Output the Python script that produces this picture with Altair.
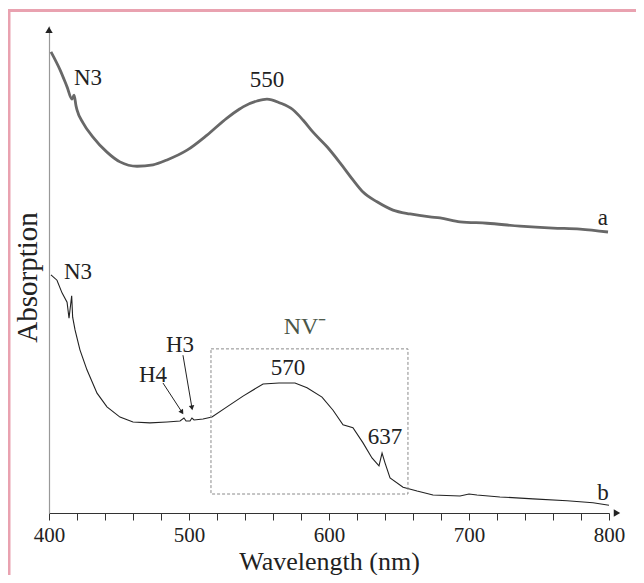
import altair as alt
import pandas as pd

# ---- curve a (thick grey) ----
wl_a = [401.4, 407.9, 412.9, 416.4, 417.9, 419.3, 420.0, 424.3, 431.4, 441.4,
        450.7, 462.9, 474.3, 484.3, 498.6, 512.9, 527.1, 536.4, 538.6, 548.6,
        555.7, 565.0, 574.3, 581.4, 588.6, 598.6, 607.9, 617.1, 624.3, 634.3,
        645.7, 657.9, 672.1, 679.3, 693.6, 712.9, 736.4, 760.0, 779.3, 799.3]
abs_a = [94.7, 91.0, 87.5, 85.0, 85.8, 83.6, 82.8, 80.1, 77.2, 74.1,
         72.1, 71.2, 71.5, 72.5, 74.5, 77.6, 81.1, 83.0, 83.4, 84.6,
         85.0, 84.2, 82.8, 80.7, 78.2, 75.2, 71.9, 68.4, 65.9, 63.9,
         62.2, 61.4, 60.8, 60.6, 59.8, 59.5, 58.9, 58.5, 58.3, 57.7]

# ---- curve b (thin black) ----
wl_b = [401.4, 405.7, 409.3, 412.9, 414.3, 416.2, 416.9, 418.6, 422.1, 427.1,
        434.3, 441.4, 450.7, 460.0, 472.1, 484.3, 493.6, 496.4, 497.9, 500.7,
        502.1, 503.6, 510.0, 516.4, 527.1, 538.6, 552.9, 564.3, 575.7, 584.3,
        595.0, 602.9, 610.0, 617.1, 624.3, 630.7, 635.7, 637.9, 640.0, 643.6,
        652.9, 662.9, 674.3, 693.6, 700.0, 705.7, 722.1, 745.7, 770.0, 788.6, 800.0]
abs_b = [48.9, 47.8, 45.2, 43.3, 40.0, 44.6, 40.2, 37.6, 33.5, 29.4,
         24.6, 21.8, 19.7, 18.7, 18.5, 18.7, 18.9, 19.5, 18.9, 18.9,
         19.5, 19.1, 19.3, 19.7, 21.8, 24.0, 26.5, 26.7, 26.7, 25.7,
         23.8, 21.1, 18.1, 17.5, 14.4, 11.3, 9.7, 12.3, 10.3, 7.2,
         5.3, 4.5, 3.7, 3.5, 3.9, 3.7, 3.3, 2.9, 2.5, 2.1, 1.6]

# ---- annotations ----
label_text = ["N3", "550", "a", "N3", "H4", "H3", "570", "637", "b"]
label_x = [427.9, 555.7, 795.7, 420.7, 474.3, 493.6, 570.7, 640.0, 795.7]
label_y = [89.3, 88.9, 60.6, 49.5, 28.3, 34.5, 29.8, 15.6, 4.1]

nv_text = ["NV\u207b"]
nv_x = [582.9]
nv_y = [38.2]

box_x = [515.7, 656.4]
box_y = [3.9, 33.7]

arrow_x1 = [481.4, 495.7]
arrow_y1 = [26.7, 32.4]
arrow_x2 = [495.0, 502.1]
arrow_y2 = [20.7, 21.6]
arrow_angle = [327, 350]

FONT = "'Liberation Serif', 'Times New Roman', Times, serif"
xs = alt.Scale(domain=[400, 800], nice=False, zero=False)
ys = alt.Scale(domain=[0, 100], nice=False, zero=False)

df_a = pd.DataFrame({"wl": wl_a, "ab": abs_a})
df_b = pd.DataFrame({"wl": wl_b, "ab": abs_b})
df_lab = pd.DataFrame({"t": label_text, "x": label_x, "y": label_y})
df_nv = pd.DataFrame({"t": nv_text, "x": nv_x, "y": nv_y})
df_box = pd.DataFrame({"x": [box_x[0]], "x2": [box_x[1]], "y": [box_y[0]], "y2": [box_y[1]]})
df_arr = pd.DataFrame({"x": arrow_x1, "y": arrow_y1, "x2": arrow_x2, "y2": arrow_y2, "ang": arrow_angle})

x_axis = alt.Axis(
    values=list(range(400, 801, 20)),
    labelExpr="datum.value % 100 == 0 ? datum.label : ''",
    format="d", tickSize=7, tickColor="#333", tickWidth=1,
    domainColor="#333", domainWidth=1.2, grid=False,
    labelFont=FONT, labelFontSize=21, labelColor="#222",
    labelOverlap=False, labelFlush=False, labelPadding=4,
    title="Wavelength (nm)", titleFont=FONT, titleFontSize=26,
    titleFontWeight="normal", titleColor="#222", titlePadding=3,
)
y_axis = alt.Axis(
    ticks=False, labels=False, grid=False, domainColor="#999", domainWidth=1.2,
    title="Absorption", titleFont=FONT, titleFontSize=29,
    titleFontWeight="normal", titleColor="#222", titlePadding=7, titleY=251,
)


def X(f):
    return alt.X(f, type="quantitative", scale=xs, axis=x_axis)


def Y(f):
    return alt.Y(f, type="quantitative", scale=ys, axis=y_axis)


line_a = alt.Chart(df_a).mark_line(color="#686868", strokeWidth=2.8, clip=False,
                                   interpolate="monotone").encode(
    x=X("wl"), y=Y("ab"),
)
line_b = alt.Chart(df_b).mark_line(color="#222", strokeWidth=1.1, clip=False).encode(
    x=X("wl"), y=Y("ab"),
)
labels = alt.Chart(df_lab).mark_text(font=FONT, fontSize=23, color="#222",
                                     align="center", baseline="middle").encode(
    x=X("x"), y=Y("y"), text="t:N",
)
nv = alt.Chart(df_nv).mark_text(font=FONT, fontSize=24, color="#4b5648",
                                align="center", baseline="middle").encode(
    x=X("x"), y=Y("y"), text="t:N",
)
box = alt.Chart(df_box).mark_rect(fillOpacity=0, stroke="#8a8a8a", strokeWidth=1,
                                  strokeDash=[3, 2]).encode(
    x=X("x"), x2="x2:Q", y=Y("y"), y2="y2:Q",
)
arr_lines = alt.Chart(df_arr).mark_rule(color="#222", strokeWidth=1).encode(
    x=X("x"), x2="x2:Q", y=Y("y"), y2="y2:Q",
)
arr_heads = alt.Chart(df_arr).mark_point(shape="triangle-down", filled=True, color="#222",
                                         size=30, opacity=1).encode(
    x=X("x2"), y=Y("y2"),
    angle=alt.Angle("ang:Q", scale=None),
)
# axis arrow heads (at end of axes)
df_axarr = pd.DataFrame({"x": [805.7, 400.0], "y": [0.0, 99.2],
                         "s": ["triangle-right", "triangle-up"]})
ax_heads = alt.Chart(df_axarr).mark_point(filled=True, color="#222", size=55, opacity=1,
                                          clip=False).encode(
    x=X("x"), y=Y("y"),
    shape=alt.Shape("s:N", scale=None, legend=None),
)
# pink frame (decoration)
frame_top = alt.Chart(pd.DataFrame({"k": [0]})).mark_rule(color="#e9a2b0", strokeWidth=3).encode(
    x=alt.value(-45), x2=alt.value(640), y=alt.value(-15.5)
)
frame_left = alt.Chart(pd.DataFrame({"k": [0]})).mark_rule(color="#e9a2b0", strokeWidth=3).encode(
    x=alt.value(-40), y=alt.value(-17), y2=alt.value(600)
)

chart = alt.layer(
    line_a, line_b, box, labels, nv, arr_lines, arr_heads, ax_heads, frame_top, frame_left
).properties(
    width=560, height=487,
    autosize=alt.AutoSizeParams(type="none"),
    padding={"left": 41, "top": 18, "right": 27, "bottom": 62},
    background="white",
).configure_view(stroke=None)

chart.save("out.html", embed_options={"renderer": "svg", "actions": False})
